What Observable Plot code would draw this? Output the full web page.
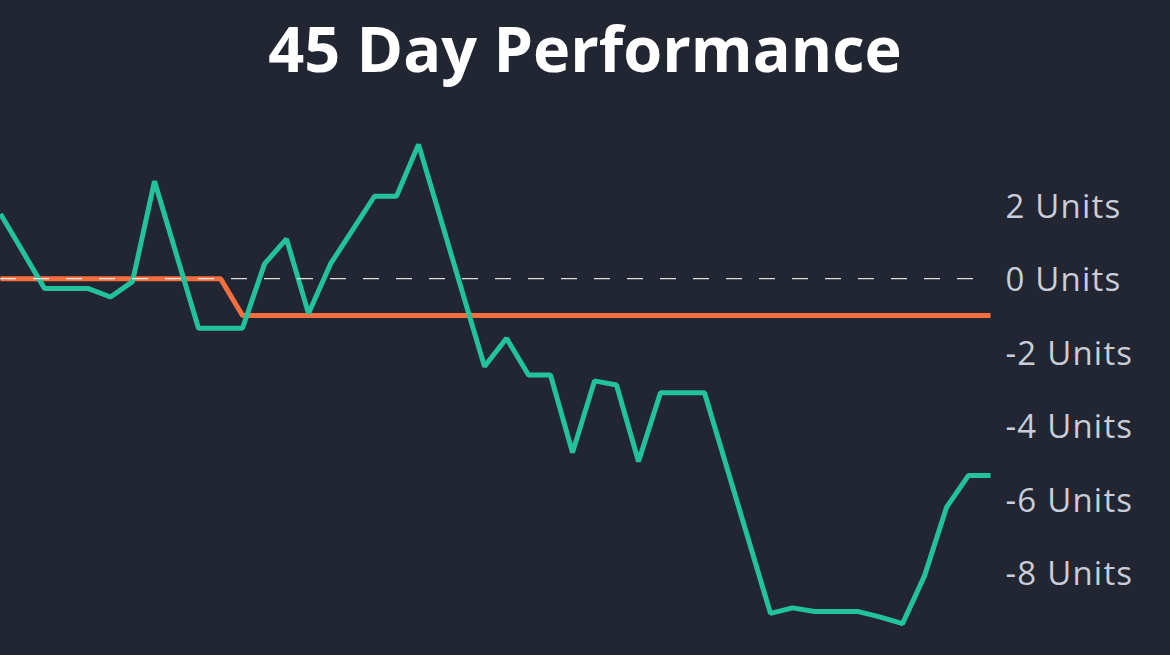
<!DOCTYPE html>
<html><head><meta charset="utf-8">
<script src="https://cdn.jsdelivr.net/npm/d3@7"></script>
<script src="https://cdn.jsdelivr.net/npm/@observablehq/plot@0.6"></script>
<style>
html,body{margin:0;padding:0;background:#222632;width:1170px;height:655px;overflow:hidden;}
#title{height:100px;margin:0;font-family:"Open Sans",sans-serif;font-weight:700;font-size:63px;color:#ffffff;text-align:center;line-height:96px;}
#chart{height:555px;}
#chart svg text{letter-spacing:1.2px;}
</style></head>
<body>
<h1 id="title">45 Day Performance</h1>
<div id="chart"></div>
<script>
const days = [0,1,2,3,4,5,6,7,8,9,10,11,12,13,14,15,16,17,18,19,20,21,22,23,24,25,26,27,28,29,30,31,32,33,34,35,36,37,38,39,40,41,42,43,44,45];
const strategyUnits = [1.76,0.75,-0.27,-0.27,-0.27,-0.5,-0.08,2.65,0.65,-1.35,-1.35,-1.35,0.4,1.08,-0.95,0.4,1.32,2.24,2.24,3.65,1.64,-0.38,-2.39,-1.62,-2.62,-2.62,-4.73,-2.78,-2.89,-4.97,-3.1,-3.1,-3.1,-5.1,-7.1,-9.1,-8.95,-9.05,-9.05,-9.05,-9.2,-9.38,-8.08,-6.22,-5.35,-5.35];
const benchmarkUnits = [0,0,0,0,0,0,0,0,0,0,0,-1,-1,-1,-1,-1,-1,-1,-1,-1,-1,-1,-1,-1,-1,-1,-1,-1,-1,-1,-1,-1,-1,-1,-1,-1,-1,-1,-1,-1,-1,-1,-1,-1,-1,-1];
const yTicks = [2,0,-2,-4,-6,-8];

const green = days.map((d,i)=>({day:d, value:strategyUnits[i]}));
const orange = days.map((d,i)=>({day:d, value:benchmarkUnits[i]}));

const chart = Plot.plot({
  width:1170, height:555,
  marginLeft:0, marginRight:180, marginTop:31, marginBottom:9,
  style:{background:"transparent", fontFamily:"'Open Sans', sans-serif", fontSize:"33px", color:"#c8cdd8", overflow:"visible"},
  x:{domain:[0,45], axis:null},
  y:{domain:[-10,4], axis:null},
  marks:[
    Plot.axisY({anchor:"right", ticks:yTicks, tickFormat:d=>`${d} Units`, tickSize:0, tickPadding:15, dy:2, label:null}),
    Plot.lineY(orange, {x:"day", y:"value", stroke:"#f46f3f", strokeWidth:5, strokeLinejoin:"miter", strokeLinecap:"butt"}),
    Plot.lineY(green, {x:"day", y:"value", stroke:"#22c39b", strokeWidth:5, strokeLinejoin:"miter", strokeLinecap:"butt"}),
    Plot.ruleY([0], {stroke:"#ffffff", strokeOpacity:0.85, strokeWidth:1.3, strokeDasharray:"16,17"})
  ]
});
document.getElementById("chart").appendChild(chart);
</script>
</body></html>
